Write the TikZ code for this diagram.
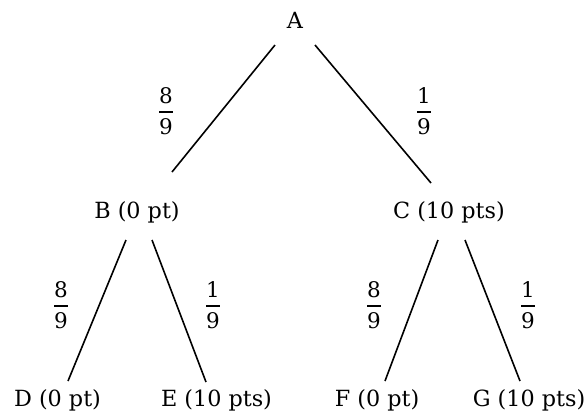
\documentclass[tikz,border=0pt]{standalone}
\usepackage{fontspec}
\setmainfont{DejaVu Serif}
\usetikzlibrary{calc}
\tikzset{
  lbl/.style={anchor=base, inner sep=0pt, font=\fontsize{22.3}{24}\selectfont},
  frac/.style={anchor=base, inner sep=0pt, font=\fontsize{21.5}{24}\selectfont},
  branch/.style={line width=1.6pt, line cap=butt}
}
\newcommand\myfr[2]{$\displaystyle{\mbox{#1}\above1.7pt\mbox{\raisebox{-3pt}{#2}}}$}
\begin{document}
\begin{tikzpicture}[x=1pt,y=-1pt]
\useasboundingbox (0,0) rectangle (588,416);
% level labels
\node[lbl] (A) at (295,28) {A};
\node[lbl] (B) at (137,218) {B (0 pt)};
\node[lbl] (C) at (449,218) {C (10 pts)};
\node[lbl] (D) at (57.5,406) {D (0 pt)};
\node[lbl] (E) at (216.5,406) {E (10 pts)};
\node[lbl] (F) at (377,406) {F (0 pt)};
\node[lbl] (G) at (529,406) {G (10 pts)};
% probabilities
\node[frac] (pAB) at (166,117.5) {\myfr{8}{9}};
\node[frac] (pAC) at (424,117.5) {\myfr{1}{9}};
\node[frac] (pBD) at (61,311.5) {\myfr{8}{9}};
\node[frac] (pBE) at (213,311.5) {\myfr{1}{9}};
\node[frac] (pCF) at (374,311.5) {\myfr{8}{9}};
\node[frac] (pCG) at (528,311.5) {\myfr{1}{9}};
% branches
\draw[branch] ($(A.base)+(-20,17)$) -- ($(B.base)+(35,-46)$);
\draw[branch] ($(A.base)+(20,17)$) -- ($(C.base)+(-18,-35)$);
\draw[branch] ($(B.base)+(-11,22)$) -- ($(D.base)+(10.5,-25)$);
\draw[branch] ($(B.base)+(15,22)$) -- ($(E.base)+(-10.5,-24)$);
\draw[branch] ($(C.base)+(-11,22)$) -- ($(F.base)+(8,-25)$);
\draw[branch] ($(C.base)+(16,22)$) -- ($(G.base)+(-9,-25)$);
\end{tikzpicture}
\end{document}
